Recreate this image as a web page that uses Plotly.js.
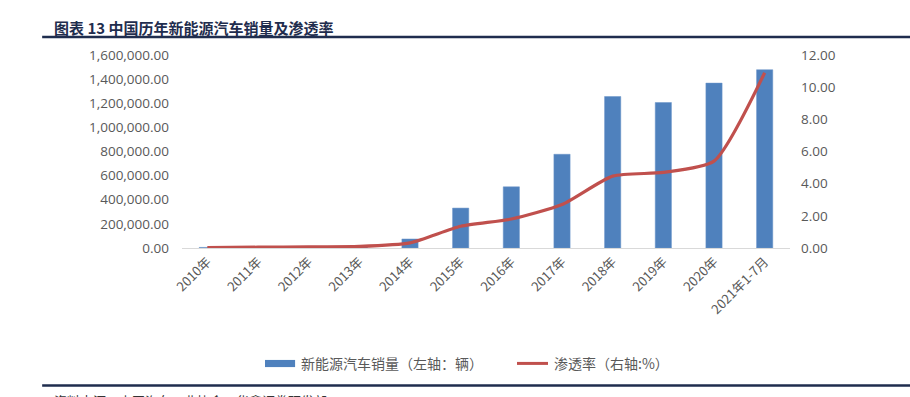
<!DOCTYPE html>
<html><head><meta charset="utf-8">
<script src="https://cdn.plot.ly/plotly-3.0.1.min.js"></script>
<style>body{margin:0;background:#fff}#c{width:910px;height:397px}</style>
</head><body><div id="c"></div>
<script>
const categories = ['2010年','2011年','2012年','2013年','2014年','2015年','2016年','2017年','2018年','2019年','2020年','2021年1-7月'];
const sales = [5000, 8000, 13000, 17600, 74800, 331000, 507000, 777000, 1256000, 1206000, 1367000, 1478000];
const penetration = [0.03, 0.05, 0.07, 0.1, 0.32, 1.35, 1.8, 2.7, 4.47, 4.7, 5.4, 10.9];
const leftTicks = [0, 200000, 400000, 600000, 800000, 1000000, 1200000, 1400000, 1600000];
const leftTickText = ['0.00','200,000.00','400,000.00','600,000.00','800,000.00','1,000,000.00','1,200,000.00','1,400,000.00','1,600,000.00'];
const rightTicks = [0, 2, 4, 6, 8, 10, 12];
const rightTickText = ['0.00','2.00','4.00','6.00','8.00','10.00','12.00'];
const legendNames = ['新能源汽车销量（左轴：辆）', '渗透率（右轴:%）'];

const tickFont = {family: 'Open Sans, Noto Sans CJK SC, sans-serif', size: 13.5, color: '#595959'};
const cjk = 'Noto Sans CJK SC, sans-serif';
const barColor = '#4F81BD', lineColor = '#C0504D';

const data = [
  {type: 'bar', x: categories, y: sales, name: legendNames[0],
   marker: {color: barColor, line: {color: '#6b95c9', width: 0.5}}, width: 0.32, yaxis: 'y'},
  {type: 'scatter', mode: 'lines', x: categories, y: penetration, name: legendNames[1],
   line: {color: lineColor, width: 3.2, shape: 'spline', smoothing: 0.6}, yaxis: 'y2'}
];

const layout = {
  width: 910, height: 397,
  margin: {l: 182, r: 120, t: 55, b: 149},
  paper_bgcolor: '#fff', plot_bgcolor: '#fff',
  showlegend: false,
  xaxis: {type: 'category', tickangle: -45, tickfont: {family: cjk, size: 13, color: '#595959'},
          showline: true, linecolor: '#d9d9d9', linewidth: 1, ticks: '', showgrid: false, zeroline: false,
          automargin: false},
  yaxis: {range: [0, 1600000], tickvals: leftTicks, ticktext: leftTickText, tickfont: tickFont,
          showgrid: false, zeroline: false, showline: false, ticklabelstandoff: 12, automargin: false},
  yaxis2: {range: [0, 12], tickvals: rightTicks, ticktext: rightTickText, tickfont: tickFont,
           overlaying: 'y', side: 'right', showgrid: false, zeroline: false, showline: false,
           ticklabelstandoff: 10, automargin: false},
  shapes: [
    {type: 'line', xref: 'paper', yref: 'paper', x0: -0.23, x1: 1.2, y0: 1.093, y1: 1.093,
     line: {color: '#1F2D4E', width: 2.5}},
    {type: 'line', xref: 'paper', yref: 'paper', x0: -0.23, x1: 1.2, y0: -0.712, y1: -0.712,
     line: {color: '#1F2D4E', width: 2.5}},
    {type: 'rect', xref: 'paper', yref: 'paper', x0: 0.1365, x1: 0.186, y0: -0.580, y1: -0.617,
     fillcolor: barColor, line: {width: 0}},
    {type: 'line', xref: 'paper', yref: 'paper', x0: 0.551, x1: 0.602, y0: -0.598, y1: -0.598,
     line: {color: lineColor, width: 3}}
  ],
  annotations: [
    {text: '<b>图表 13 中国历年新能源汽车销量及渗透率</b>', xref: 'paper', yref: 'paper',
     x: -0.214, y: 1.145, xanchor: 'left', yanchor: 'middle', showarrow: false,
     font: {family: cjk, size: 15, color: '#1F2D4E'}},
    {text: legendNames[0], xref: 'paper', yref: 'paper', x: 0.193, y: -0.598,
     xanchor: 'left', yanchor: 'middle', showarrow: false, font: {family: cjk, size: 14, color: '#595959'}},
    {text: legendNames[1], xref: 'paper', yref: 'paper', x: 0.609, y: -0.598,
     xanchor: 'left', yanchor: 'middle', showarrow: false, font: {family: cjk, size: 14, color: '#595959'}},
    {text: '资料来源：中国汽车工业协会，华鑫证券研发部', xref: 'paper', yref: 'paper',
     x: -0.214, y: -0.728, xanchor: 'left', yanchor: 'top', showarrow: false,
     font: {family: cjk, size: 13, color: '#333'}}
  ]
};
Plotly.newPlot('c', data, layout, {displayModeBar: false, staticPlot: true});
</script></body></html>
